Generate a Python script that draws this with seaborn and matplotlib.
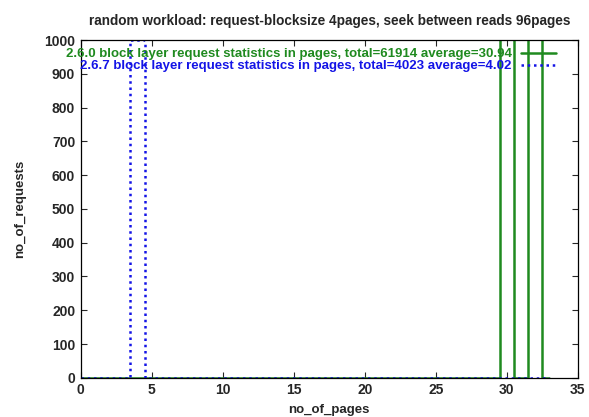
import numpy as np
import pandas as pd
import matplotlib
matplotlib.use("Agg")
import matplotlib.pyplot as plt
import seaborn as sns

pages = list(range(0, 34))
req_260 = [0] * 34
req_260[30] = 1100
req_260[32] = 1050
req_267 = [0] * 34
req_267[4] = 1000

label_260 = "2.6.0 block layer request statistics in pages, total=61914 average=30.94"
label_267 = "2.6.7 block layer request statistics in pages, total=4023 average=4.02"
title = "random workload: request-blocksize 4pages, seek between reads 96pages"

sns.set_style("ticks")
plt.rcParams['font.family'] = ['Liberation Sans', 'DejaVu Sans']

df = pd.DataFrame({"pages": pages * 2,
                   "requests": req_260 + req_267,
                   "series": [label_260] * 34 + [label_267] * 34})

fig = plt.figure(figsize=(5.89, 4.17), dpi=100)
ax = fig.add_axes([0.137, 0.094, 0.844, 0.81])

green = "#1f8a1f"
blue = "#1414e6"
sns.lineplot(data=df[df.series == label_260], x="pages", y="requests", ax=ax,
             color=green, lw=1.8, drawstyle="steps-mid", label=label_260)
sns.lineplot(data=df[df.series == label_267], x="pages", y="requests", ax=ax,
             color=blue, lw=1.8, drawstyle="steps-mid", linestyle=(0, (1, 1.5)),
             label=label_267)

ax.set_xlim(0, 35)
ax.set_ylim(0, 1000)
ax.set_xticks(range(0, 36, 5))
ax.set_yticks(range(0, 1001, 100))
ax.tick_params(direction="in", top=True, right=True, length=4, width=0.8,
               labelsize=10, pad=4)
for lab in ax.get_xticklabels() + ax.get_yticklabels():
    lab.set_fontweight("bold")
for s in ax.spines.values():
    s.set_linewidth(0.9)
    s.set_color("black")

ax.set_xlabel("no_of_pages", fontsize=9.5, fontweight="bold", labelpad=5)
ax.set_ylabel("no_of_requests", fontsize=9.5, fontweight="bold", labelpad=13)
ax.set_title(title, fontsize=9.8, fontweight="bold", pad=11)

leg = ax.legend(loc="upper right", frameon=False, markerfirst=False,
                prop={"size": 9.5, "weight": "bold"}, handlelength=2.7,
                handletextpad=0.7, labelspacing=0.0, borderaxespad=0.2,
                bbox_to_anchor=(0.973, 1.0))
for t, c in zip(leg.get_texts(), [green, blue]):
    t.set_color(c)
    t.set_ha("right")

fig.savefig("out.png", dpi=100)
